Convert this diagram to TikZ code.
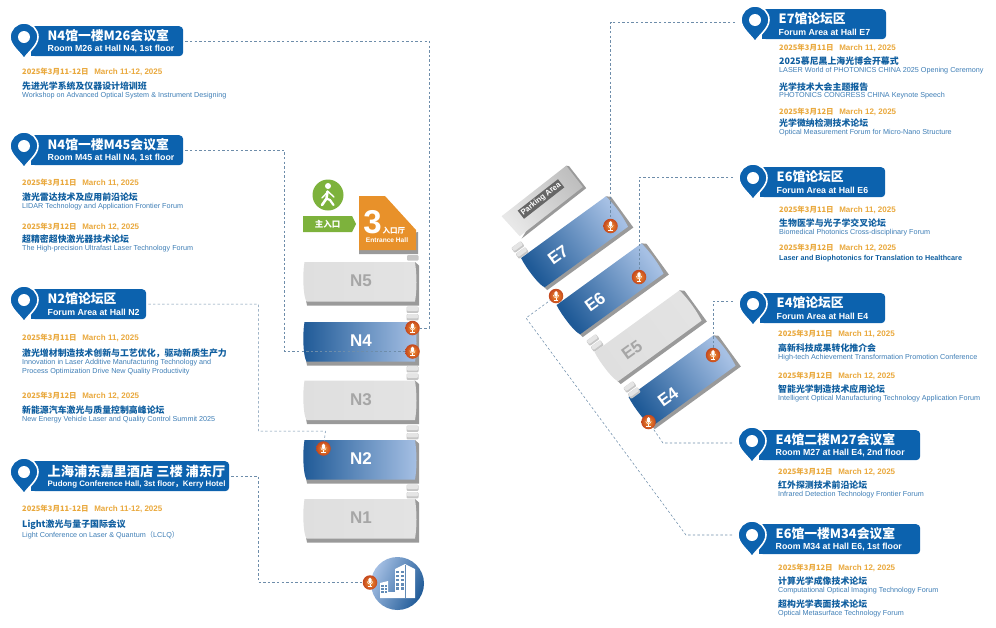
\documentclass[tikz,border=0pt]{standalone}
\usepackage{fontspec}
\setmainfont{Liberation Sans}
\newfontfamily\cjk{Noto Sans CJK SC}
\definecolor{pinblue}{HTML}{0C62AE}
\definecolor{titleblue}{HTML}{0F5E9F}
\definecolor{enblue}{HTML}{3D7DB5}
\definecolor{dateorange}{HTML}{E9A83C}
\definecolor{leadergray}{HTML}{6E8DAA}
\definecolor{halldark}{HTML}{1F5A97}
\definecolor{halllight}{HTML}{A6C0E4}
\definecolor{hallshadow}{HTML}{9A9A9A}
\definecolor{walkgreen}{HTML}{7DB23C}
\definecolor{entryorange}{HTML}{E8912A}
\definecolor{micrim}{HTML}{C4481E}
\definecolor{miccore}{HTML}{F2902E}
\tikzset{
  bannerbox/.style={fill=pinblue,rounded corners=4pt,minimum height=30pt,inner sep=0pt,anchor=north west},
  bannerzh/.style={anchor=west,inner sep=0pt,text=white,font=\cjk\bfseries\fontsize{12.8}{14}\selectfont},
  banneren/.style={anchor=west,inner sep=0pt,text=white,font=\bfseries\fontsize{8.8}{10}\selectfont},
  datetxt/.style={anchor=west,inner sep=0pt,text=dateorange,font=\bfseries\fontsize{8}{9}\selectfont},
  titletxt/.style={anchor=west,inner sep=0pt,text=titleblue,font=\cjk\bfseries\fontsize{8.9}{10}\selectfont},
  entxt/.style={anchor=west,inner sep=0pt,text=enblue,font=\fontsize{7.22}{8}\selectfont},
  leader/.style={draw=leadergray,line width=.55pt,dash pattern=on 2.4pt off 2.2pt,shorten <=2pt},
  faceon/.style={left color=halldark,right color=halllight},
  faceoff/.style={left color=gray!25,middle color=gray!8,right color=gray!22},
  labelon/.style={text=white,inner sep=0pt,font=\bfseries\fontsize{17}{18}\selectfont},
  labeloff/.style={text=black!35,inner sep=0pt,font=\bfseries\fontsize{17}{18}\selectfont},
  micball/.style={circle,minimum size=14.5pt,inner sep=0pt,shading=radial,inner color=miccore,outer color=micrim,
    path picture={
      \begin{scope}[shift={(path picture bounding box.center)}]
        \fill[white,rounded corners=1.4pt] (-1.6,-4.8) rectangle (1.6,.8);
        \draw[white,line width=.5pt] (-2.7,-1) .. controls (-2.7,2.6) and (2.7,2.6) .. (2.7,-1);
        \draw[white,line width=.6pt] (0,1.8) -- (0,4) (-2.4,4.2) -- (2.4,4.2);
      \end{scope}}},
}
% hall block: name, centre x, centre y, rotation, scale, on/off, label x, label y
\newcommand{\hallblock}[8]{
  \pgfmathsetmacro\hallang{90+#4}
  \begin{scope}[shift={(#2,#3)},rotate=#4,scale=#5]
    \fill[hallshadow] (-55,17) -- (-54,22) -- (58,22) -- (58,-18) -- (54,-21.5) -- cycle;
    \shade[face#6,shading angle=\hallang] (-56.5,-21.5) -- (54,-21.5) .. controls (56,-8) and (56,6) .. (54,18)
      -- (-54.5,18) .. controls (-58,13) and (-58.5,-10) .. cycle;
  \end{scope}
  \node[label#6,rotate=#4] (hall#1) at (#7,#8) {#1};
}
% pair of small link bars
\newcommand{\linkbars}[3]{
  \begin{scope}[shift={(#1,#2)},rotate=#3]
    \fill[gray!45,rounded corners=1pt] (-6,-6.8) rectangle (6,-.6);
    \fill[gray!45,rounded corners=1pt] (-6,.6) rectangle (6,6.8);
    \fill[gray!20,rounded corners=1pt] (-5.5,-6.8) rectangle (5.5,-2.4);
    \fill[gray!20,rounded corners=1pt] (-5.5,.6) rectangle (5.5,4.8);
  \end{scope}
}
% banner with map pin: name, pin x, top y, right x, chinese, english
\newcommand{\bannerpin}[6]{
  \pgfmathsetmacro\bannerw{#4-#2-7}
  \begin{scope}[shift={(#2,#3)}]
    \node[bannerbox,minimum width=\bannerw pt] (#1) at (7,0) {};
    \fill[pinblue] (7,0) rectangle (14,30);
    \filldraw[fill=pinblue,draw=white,line width=1.6pt] (0,33) .. controls (-3,27) and (-14,20) .. (-14,11)
      .. controls (-14,3.3) and (-7.7,-3) .. (0,-3) .. controls (7.7,-3) and (14,3.3) .. (14,11)
      .. controls (14,20) and (3,27) .. cycle;
    \fill[white] (0,11) circle (6pt);
    \coordinate (#1pin) at (-18,11);
    \node[bannerzh] (#1zh) at (23.5,10) {#5};
    \node[banneren] (#1en) at (23.5,23) {#6};
  \end{scope}
}
\newcommand{\datenode}[5]{\node[datetxt] (#1) at (#2,#3) {{\cjk\fontsize{7.5}{9}\selectfont #4}\hspace{.7em}#5};}
\newcommand{\titlenode}[4]{\node[titletxt] (#1) at (#2,#3) {#4};}
\newcommand{\ennode}[4]{\node[entxt] (#1) at (#2,#3) {#4};}
\begin{document}
\begin{tikzpicture}[x=1pt,y=-1pt]
  \useasboundingbox (0,0) rectangle (996,627);
  % west halls
  \hallblock{N5}{361}{283.5}{0}{1}{off}{361}{281}
  \hallblock{N4}{361}{343.5}{0}{1}{on}{361}{341}
  \hallblock{N3}{361}{402}{0}{1}{off}{361}{400}
  \hallblock{N2}{361}{461.5}{0}{1}{on}{361}{459}
  \hallblock{N1}{361}{520.5}{0}{1}{off}{361}{518}
  \linkbars{412.5}{313.5}{0}
  \linkbars{412.5}{373}{0}
  \linkbars{412.5}{432.5}{0}
  \linkbars{412.5}{491.5}{0}
  \fill[gray!45,rounded corners=1pt] (407,255) rectangle (418.5,260.5);
  % entrance hall
  \fill[hallshadow] (359,246) -- (359,254) -- (418,254) -- (418,232) -- cycle;
  \fill[entryorange] (359,196) -- (385,196) -- (416,230) -- (416,250) -- (359,250) -- cycle;
  \node[inner sep=0pt,text=white,font=\bfseries\fontsize{33}{34}\selectfont] (entryNum) at (372.5,222) {3};
  \node[anchor=west,inner sep=0pt,text=white,font=\cjk\bfseries\fontsize{7.5}{8}\selectfont] (entryZh) at (382.5,231) {入口厅};
  \node[inner sep=0pt,text=white,font=\bfseries\fontsize{6.6}{7}\selectfont] (entryEn) at (387,240) {Entrance Hall};
  % main entry sign
  \fill[walkgreen] (303,216) -- (352,216) -- (356,224) -- (352,232) -- (303,232) -- cycle;
  \node[inner sep=0pt,text=white,font=\cjk\bfseries\fontsize{8.5}{9}\selectfont] (entryTag) at (327.5,224) {主入口};
  \node[circle,fill=walkgreen,minimum size=31pt,inner sep=0pt] (walker) at (328,195) {};
  \fill[white] (328,186) circle (3pt);
  \draw[white,line width=2.6pt,line cap=round,line join=round] (327.5,191.5) -- (326.5,198.5) -- (322,205);
  \draw[white,line width=2.2pt,line cap=round,line join=round] (326.5,198.5) -- (330,200) -- (333.5,205);
  \draw[white,line width=1.4pt,line cap=round] (322,198) -- (328,191.5) -- (334,197);
  % hotel
  \node[circle,minimum size=53pt,inner sep=0pt,shading=axis,top color=halllight,bottom color=halldark,shading angle=65] (hotelDot) at (397.5,583.5) {};
  \fill[white] (395,569) -- (405,564) -- (415,569) -- (415,598) -- (380,598) -- (380,583) -- (388,581) -- (388,592) -- (395,592) -- cycle;
  \draw[halldark!70,line width=.4pt] (405.5,565) -- (405.5,598);
  \foreach \r in {0,...,4} \foreach \c in {0,1}
    \fill[halldark!70] (396+\c*4.5,570.5+\r*4.2) rectangle ++(3.3,2.4);
  \foreach \r in {0,1,2} \foreach \c in {0,1}
    \fill[halldark!70] (381+\c*3.5,585+\r*3) rectangle ++(2.6,1.8);
  % east halls
  \hallblock{E7}{576.5}{243}{36}{.95}{on}{558}{255}
  \hallblock{E6}{612}{290}{36}{.95}{on}{595}{302}
  \hallblock{E5}{650}{337}{36}{.95}{off}{632}{350}
  \hallblock{E4}{684}{382}{36}{.95}{on}{668}{397}
  \begin{scope}[shift={(542.5,202)},rotate=38]
    \fill[hallshadow] (-39,16) -- (43,16) -- (43,-12) -- (41,-14) -- cycle;
    \shade[left color=gray!18,right color=gray!50,shading angle=128] (-41,-14) -- (41,-14) -- (41,13) -- (-39,13) -- cycle;
  \end{scope}
  \node[rotate=38,fill=black!60,text=white,inner xsep=1.5pt,inner ysep=1.5pt,font=\bfseries\fontsize{7.8}{9}\selectfont] (parking) at (541,199) {Parking Area};
  \linkbars{520}{250}{36}
  \linkbars{595}{343}{36}
  \linkbars{632}{390}{36}
  % mics
  \node[micball] (micM26) at (412.5,328) {};
  \node[micball] (micM45) at (412.5,351.5) {};
  \node[micball] (micN2) at (323.5,448.5) {};
  \node[micball] (micKerry) at (370,582.5) {};
  \node[micball] (micE7) at (610.5,226) {};
  \node[micball] (micE6) at (639,277) {};
  \node[micball] (micE4) at (713,355) {};
  \node[micball] (micM27) at (648.5,422) {};
  \node[micball] (micM34) at (556,296) {};
  % left column
  \bannerpin{m26}{24}{26}{183}{N4馆一楼M26会议室}{Room M26 at Hall N4, 1st floor}
  \datenode{m26d}{22}{72}{2025年3月11-12日}{March 11-12, 2025}
  \titlenode{m26t}{22}{86}{先进光学系统及仪器设计培训班}
  \ennode{m26e}{22}{95.5}{Workshop on Advanced Optical System \& Instrument Designing}
  \bannerpin{m45}{24}{135}{183}{N4馆一楼M45会议室}{Room M45 at Hall N4, 1st floor}
  \datenode{m45d}{22}{183}{2025年3月11日}{March 11, 2025}
  \titlenode{m45t}{22}{197}{激光雷达技术及应用前沿论坛}
  \ennode{m45e}{22}{206.5}{LIDAR Technology and Application Frontier Forum}
  \datenode{m45f}{22}{227}{2025年3月12日}{March 12, 2025}
  \titlenode{m45u}{22}{239.5}{超精密超快激光器技术论坛}
  \ennode{m45g}{22}{249}{The High-precision Ultrafast Laser Technology Forum}
  \bannerpin{n2}{24}{289}{146}{N2馆论坛区}{Forum Area at Hall N2}
  \datenode{n2d}{22}{338}{2025年3月11日}{March 11, 2025}
  \titlenode{n2t}{22}{353}{激光增材制造技术创新与工艺优化，驱动新质生产力}
  \ennode{n2e}{22}{363}{Innovation in Laser Additive Manufacturing Technology and}
  \ennode{n2g}{22}{372}{Process Optimization Drive New Quality Productivity}
  \datenode{n2f}{22}{396}{2025年3月12日}{March 12, 2025}
  \titlenode{n2u}{22}{410}{新能源汽车激光与质量控制高峰论坛}
  \ennode{n2h}{22}{420}{New Energy Vehicle Laser and Quality Control Summit 2025}
  \bannerpin{ky}{24}{461}{229}{\fontsize{13.2}{14}\selectfont 上海浦东嘉里酒店 三楼 浦东厅}{\fontsize{7.9}{10}\selectfont Pudong Conference Hall, 3st floor{\cjk ，}Kerry Hotel}
  \datenode{kyd}{22}{509}{2025年3月11-12日}{March 11-12, 2025}
  \titlenode{kyt}{22}{525}{Light激光与量子国际会议}
  \ennode{kye}{22}{535}{Light Conference on Laser \& Quantum{\cjk （}LCLQ{\cjk ）}}
  % right column
  \bannerpin{e7}{755}{9}{886}{E7馆论坛区}{Forum Area at Hall E7}
  \datenode{e7d}{779}{48}{2025年3月11日}{March 11, 2025}
  \titlenode{e7t}{779}{61}{2025慕尼黑上海光博会开幕式}
  \ennode{e7e}{779}{71}{LASER World of PHOTONICS CHINA 2025 Opening Ceremony}
  \titlenode{e7u}{779}{87}{光学技术大会主题报告}
  \ennode{e7g}{779}{96}{PHOTONICS CONGRESS CHINA Keynote Speech}
  \datenode{e7f}{779}{112}{2025年3月12日}{March 12, 2025}
  \titlenode{e7v}{779}{123.5}{光学微纳检测技术论坛}
  \ennode{e7h}{779}{133}{Optical Measurement Forum for Micro-Nano Structure}
  \bannerpin{e6}{753}{167}{885}{E6馆论坛区}{Forum Area at Hall E6}
  \datenode{e6d}{779}{210}{2025年3月11日}{March 11, 2025}
  \titlenode{e6t}{779}{223}{生物医学与光子学交叉论坛}
  \ennode{e6e}{779}{232.5}{Biomedical Photonics Cross-disciplinary Forum}
  \datenode{e6f}{779}{248}{2025年3月12日}{March 12, 2025}
  \node[anchor=west,inner sep=0pt,text=titleblue,font=\bfseries\fontsize{7.25}{8}\selectfont] (e6g) at (779,259) {Laser and Biophotonics for Translation to Healthcare};
  \bannerpin{e4}{753}{293}{885}{E4馆论坛区}{Forum Area at Hall E4}
  \datenode{e4d}{778}{334}{2025年3月11日}{March 11, 2025}
  \titlenode{e4t}{778}{348}{高新科技成果转化推介会}
  \ennode{e4e}{778}{357.5}{High-tech Achievement Transformation Promotion Conference}
  \datenode{e4f}{778}{376}{2025年3月12日}{March 12, 2025}
  \titlenode{e4u}{778}{389}{智能光学制造技术应用论坛}
  \ennode{e4g}{778}{399}{Intelligent Optical Manufacturing Technology Application Forum}
  \bannerpin{m27}{752}{430}{920}{E4馆二楼M27会议室}{Room M27 at Hall E4, 2nd floor}
  \datenode{m27d}{778}{472}{2025年3月12日}{March 12, 2025}
  \titlenode{m27t}{778}{485}{红外探测技术前沿论坛}
  \ennode{m27e}{778}{495}{Infrared Detection Technology Frontier Forum}
  \bannerpin{m34}{752}{524}{920}{E6馆一楼M34会议室}{Room M34 at Hall E6, 1st floor}
  \datenode{m34d}{778}{568}{2025年3月12日}{March 12, 2025}
  \titlenode{m34t}{778}{581}{计算光学成像技术论坛}
  \ennode{m34e}{778}{591}{Computational Optical Imaging Technology Forum}
  \titlenode{m34u}{778}{604}{超构光学表面技术论坛}
  \ennode{m34g}{778}{614}{Optical Metasurface Technology Forum}
  % connectors
  \draw[leader] (m26.east) -- ++(246,0) |- (micM26);
  \draw[leader] (m45.east) -- ++(101,0) |- (micM45);
  \draw[leader] (n2.east) -- ++(112,0) |- ++(67,127) -- (micN2);
  \draw[leader] (ky.east) -- ++(29,0) |- (micKerry);
  \draw[leader] ([yshift=-2pt]e7pin) -| (micE7);
  \draw[leader] ([yshift=1pt]e6pin) -| (micE6);
  \draw[leader] ([yshift=3pt]e4pin) -| (micE4);
  \draw[leader] ([yshift=-2pt]m27pin) -- ++(-71,0) -- (micM27);
  \draw[leader] (m34pin) -- ++(-48,0) -- ++(-160,-217) -- (micM34);
\end{tikzpicture}
\end{document}
